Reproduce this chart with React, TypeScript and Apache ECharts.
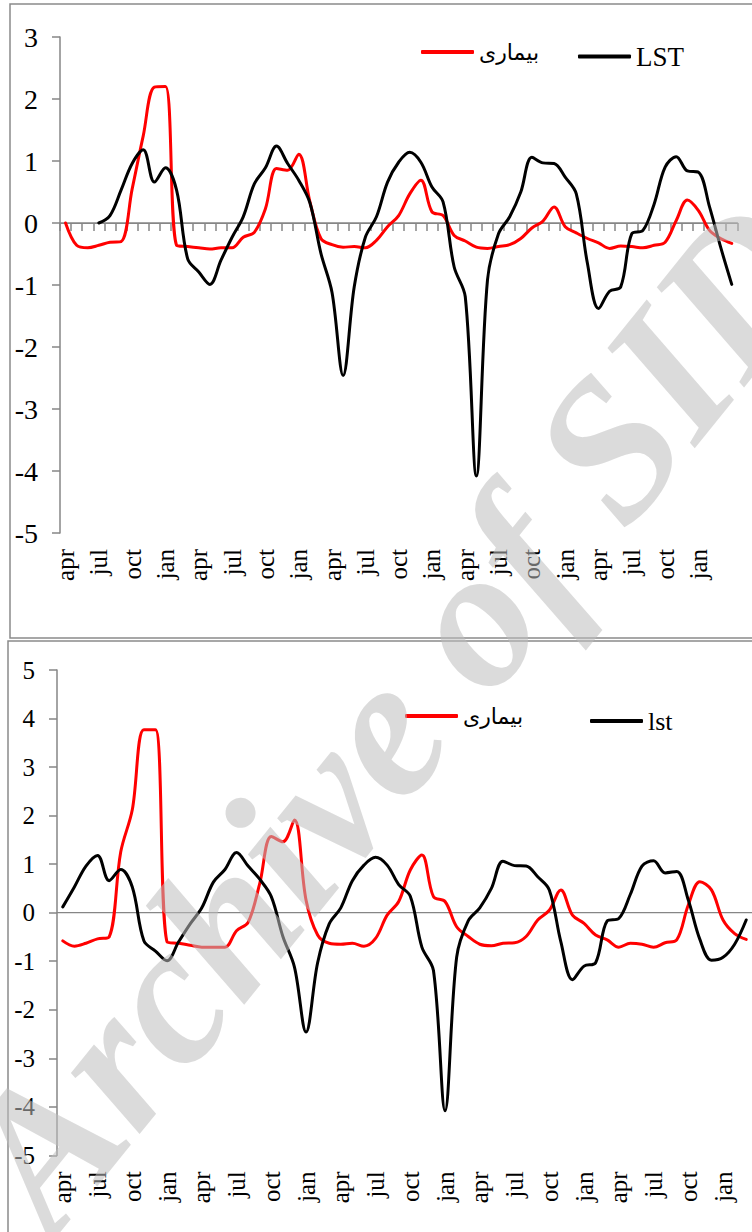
import React, { useEffect, useRef } from 'react';
import * as echarts from 'echarts';

const monthCycle = ['apr', 'may', 'jun', 'jul', 'aug', 'sep', 'oct', 'nov', 'dec', 'jan', 'feb', 'mar'];
const topCategories = Array.from({ length: 61 }, (_, i) => monthCycle[i % 12]);
const bottomCategories = Array.from({ length: 60 }, (_, i) => monthCycle[i % 12]);

const diseaseName = 'بیماری';
const lstTopName = 'LST';
const lstBottomName = 'lst';

const topDisease = [
  0, -0.36, -0.40, -0.36, -0.31, -0.30, 0.55, 1.41, 2.19, 2.20,
  -0.36, -0.38, -0.40, -0.42, -0.40, -0.40, -0.23, -0.15, 0.23, 0.88,
  0.85, 1.11, 0.35, -0.25, -0.35, -0.39, -0.38, -0.40, -0.28, -0.06,
  0.12, 0.47, 0.69, 0.18, 0.12, -0.20, -0.29, -0.39, -0.41, -0.38,
  -0.35, -0.25, -0.08, 0.03, 0.26, -0.06, -0.16, -0.25, -0.32, -0.41,
  -0.37, -0.38, -0.40, -0.36, -0.31, 0.04, 0.37, 0.20, -0.12, -0.25,
  -0.33,
];

const topLst = [
  null, null, null, 0, 0.12, 0.53, 0.96, 1.18, 0.66, 0.89,
  0.53, -0.58, -0.79, -0.99, -0.60, -0.23, 0.10, 0.63, 0.89, 1.24,
  0.96, 0.69, 0.33, -0.49, -1.12, -2.46, -1.03, -0.23, 0.10, 0.66,
  0.98, 1.14, 0.98, 0.58, 0.34, -0.71, -1.19, -4.08, -0.92, -0.17,
  0.10, 0.50, 1.06, 0.97, 0.96, 0.74, 0.47, -0.65, -1.38, -1.10,
  -1.03, -0.17, -0.12, 0.30, 0.90, 1.07, 0.84, 0.82, 0.26, -0.39,
  -0.99,
];

const bottomDisease = [
  -0.58, -0.69, -0.63, -0.54, -0.50, 1.25, 2.12, 3.77, 3.77, -0.60,
  -0.63, -0.67, -0.71, -0.71, -0.71, -0.37, -0.20, 0.60, 1.57, 1.46,
  1.91, 0.26, -0.46, -0.63, -0.65, -0.63, -0.69, -0.53, -0.05, 0.23,
  0.88, 1.19, 0.33, 0.23, -0.29, -0.49, -0.65, -0.68, -0.63, -0.62,
  -0.49, -0.15, 0.05, 0.47, -0.05, -0.22, -0.46, -0.56, -0.71, -0.63,
  -0.65, -0.71, -0.62, -0.56, 0.16, 0.64, 0.47, -0.15, -0.43, -0.55,
];

const bottomLst = [
  0.12, 0.53, 0.96, 1.18, 0.66, 0.89, 0.53, -0.58, -0.79, -0.99,
  -0.60, -0.23, 0.10, 0.63, 0.89, 1.24, 0.96, 0.69, 0.33, -0.49,
  -1.12, -2.46, -1.03, -0.23, 0.10, 0.66, 0.98, 1.14, 0.98, 0.58,
  0.34, -0.71, -1.19, -4.08, -0.92, -0.17, 0.10, 0.50, 1.06, 0.97,
  0.96, 0.74, 0.47, -0.60, -1.38, -1.10, -1.03, -0.17, -0.12, 0.38,
  0.96, 1.07, 0.82, 0.85, 0.26, -0.55, -0.98, -0.92, -0.65, -0.15,
];

const topYTicks = { min: -5, max: 3, interval: 1 };
const bottomYTicks = { min: -5, max: 5, interval: 1 };

const SERIF = '"Liberation Serif", "Times New Roman", serif';
const PERSIAN = '"DejaVu Sans", "Noto Sans", sans-serif';
const GRAY = '#868686';
const RED = '#ff0000';
const BLACK = '#000000';

function labelAxis(gridIndex: number, data: string[], maxIdx: number) {
  return {
    type: 'category',
    gridIndex,
    data,
    position: 'bottom',
    boundaryGap: true,
    axisLine: { show: false, onZero: false },
    axisTick: { show: false },
    splitLine: { show: false },
    axisLabel: {
      rotate: 90,
      interval: (idx: number) => idx % 3 === 0 && idx <= maxIdx,
      margin: 16,
      fontSize: 25,
      color: '#000',
      fontFamily: SERIF,
    },
  };
}

function zeroAxis(gridIndex: number, data: string[], ticks: boolean, width: number) {
  return {
    type: 'category',
    gridIndex,
    data,
    position: 'bottom',
    boundaryGap: true,
    axisLine: { show: true, onZero: true, lineStyle: { color: GRAY, width } },
    axisTick: { show: ticks, interval: 0, length: 8, lineStyle: { color: GRAY, width: 1.5 } },
    axisLabel: { show: false },
    splitLine: { show: false },
  };
}

function valueAxis(gridIndex: number, t: { min: number; max: number; interval: number }, fontSize: number, margin: number) {
  return {
    type: 'value',
    gridIndex,
    min: t.min,
    max: t.max,
    interval: t.interval,
    axisLine: { show: true, onZero: false, lineStyle: { color: GRAY, width: 1.5 } },
    axisTick: { show: true, length: 8, lineStyle: { color: GRAY, width: 1.5 } },
    splitLine: { show: false },
    axisLabel: { fontSize, margin, color: '#000', fontFamily: SERIF },
  };
}

function lineSeries(name: string, data: (number | null)[], color: string, xAxisIndex: number, yAxisIndex: number) {
  return {
    type: 'line',
    name,
    data,
    xAxisIndex,
    yAxisIndex,
    smooth: 0.35,
    symbol: 'none',
    showSymbol: false,
    connectNulls: false,
    color,
    lineStyle: { color, width: 3, cap: 'round', join: 'round' },
    z: color === BLACK ? 3 : 2,
  };
}

function legendItem(name: string, left: number, top: number, font: string, fontSize: number, padTop: number) {
  return {
    data: [name],
    left,
    top,
    orient: 'horizontal',
    icon: 'roundRect',
    itemWidth: 53,
    itemHeight: 4,
    padding: 0,
    selectedMode: false,
    textStyle: { fontSize, fontFamily: font, color: '#000', padding: [padTop, 0, 0, 0] },
  };
}

export default function App() {
  const ref = useRef<HTMLDivElement>(null);

  useEffect(() => {
    if (!ref.current) return;
    const chart = echarts.init(ref.current, null, { renderer: 'svg' });
    const option: any = {
      animation: false,
      backgroundColor: '#ffffff',
      textStyle: { fontFamily: SERIF },
      grid: [
        { left: 60, top: 37, width: 677.3, height: 496 },
        { left: 57, top: 670, width: 696, height: 485.4 },
      ],
      xAxis: [
        labelAxis(0, topCategories, 57),
        zeroAxis(0, topCategories, true, 1.75),
        labelAxis(1, bottomCategories, 57),
        zeroAxis(1, bottomCategories, false, 1.25),
      ],
      yAxis: [
        valueAxis(0, topYTicks, 28, 22),
        valueAxis(1, bottomYTicks, 25, 22),
      ],
      legend: [
        legendItem(diseaseName, 421, 41, PERSIAN, 22, 12),
        legendItem(lstTopName, 578, 43, SERIF, 27, 0),
        legendItem(diseaseName, 405, 705, PERSIAN, 22, 12),
        legendItem(lstBottomName, 590, 708, SERIF, 26, 0),
      ],
      series: [
        lineSeries(diseaseName, topDisease, RED, 0, 0),
        lineSeries(lstTopName, topLst, BLACK, 0, 0),
        lineSeries(diseaseName, bottomDisease, RED, 2, 1),
        lineSeries(lstBottomName, bottomLst, BLACK, 2, 1),
      ],
      graphic: [
        {
          type: 'rect',
          z: -10,
          silent: true,
          shape: { x: 10, y: 4, width: 800, height: 634 },
          style: { fill: 'none', stroke: '#8a8a8a', lineWidth: 1.5 },
        },
        {
          type: 'rect',
          z: -10,
          silent: true,
          shape: { x: 8, y: 641, width: 800, height: 700 },
          style: { fill: 'none', stroke: '#8a8a8a', lineWidth: 1.5 },
        },
        {
          type: 'text',
          z: 100,
          silent: true,
          x: 392,
          y: 715,
          rotation: 0.89,
          style: {
            text: 'Archive of SID',
            fontFamily: SERIF,
            fontStyle: 'italic',
            fontWeight: 'bold',
            fontSize: 200,
            fill: 'rgba(190,190,190,0.55)',
            textAlign: 'center',
            textVerticalAlign: 'middle',
          },
        },
      ],
    };
    chart.setOption(option);
    return () => chart.dispose();
  }, []);

  return (
    <div
      ref={ref}
      style={{ position: 'absolute', left: 0, top: 0, width: 752, height: 1232, background: '#fff' }}
    />
  );
}
